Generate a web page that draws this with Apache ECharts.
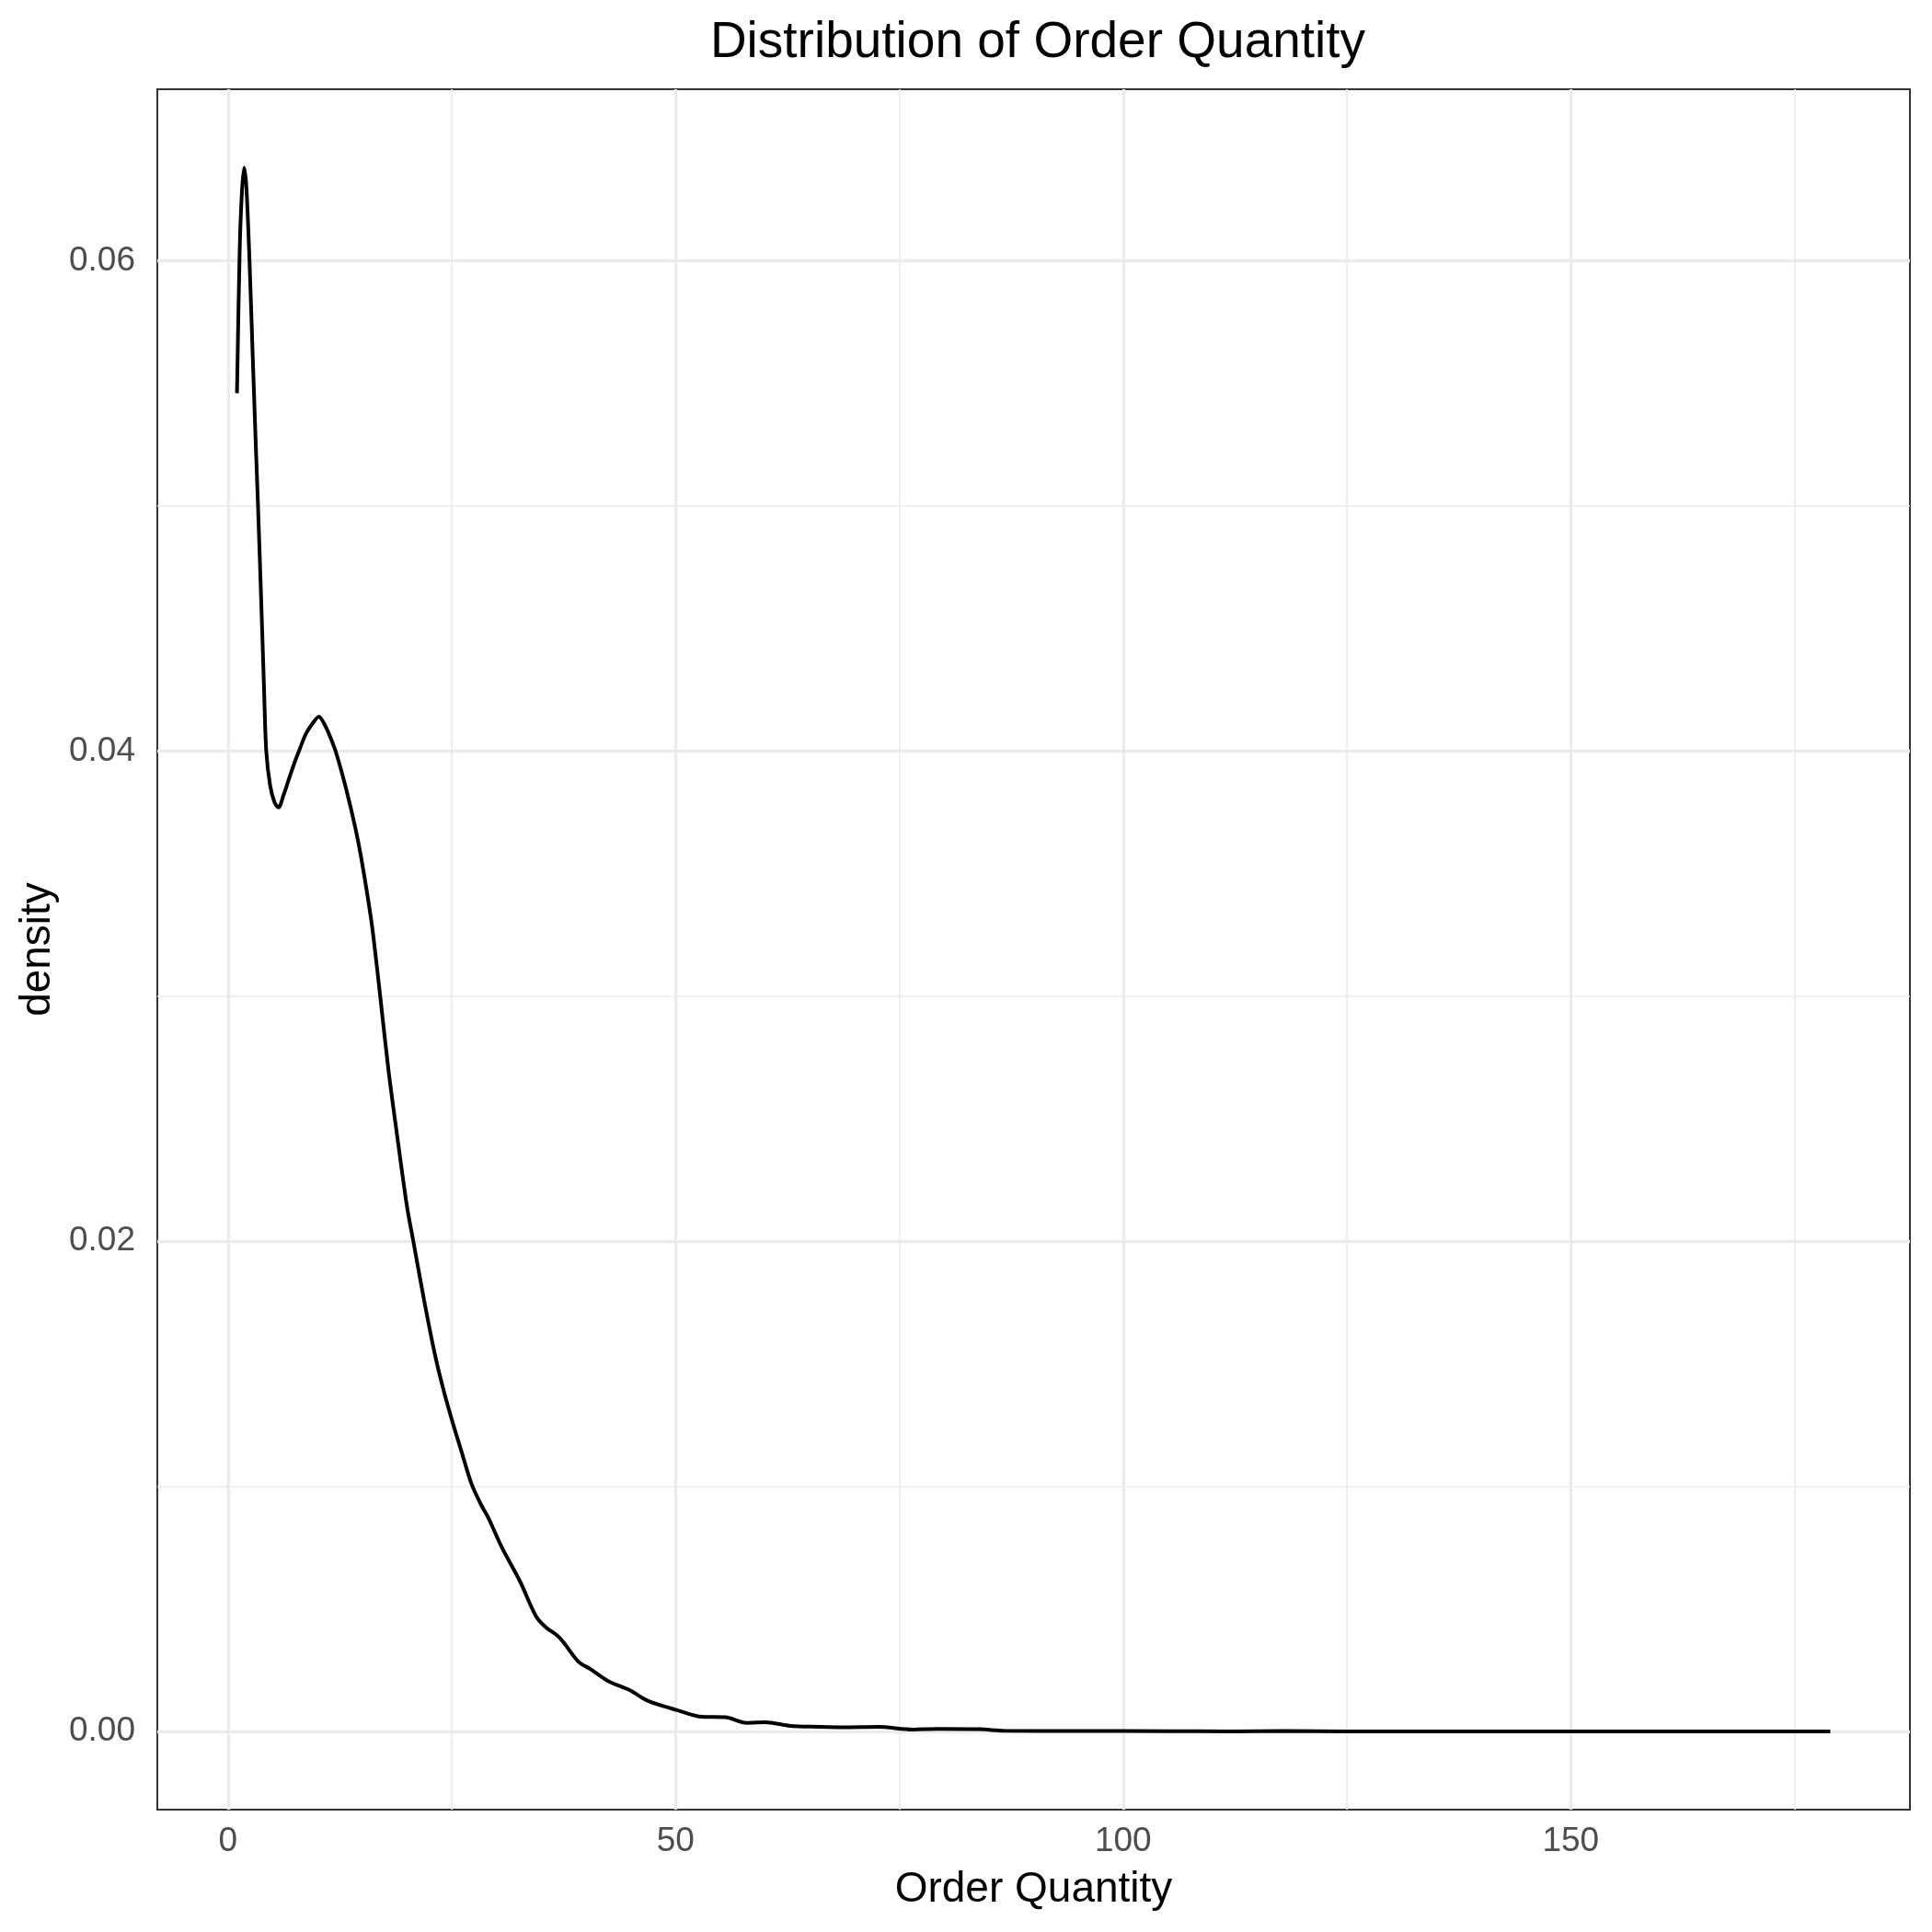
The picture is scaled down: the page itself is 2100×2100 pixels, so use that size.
<!DOCTYPE html>
<html>
<head>
<meta charset="utf-8">
<title>Distribution of Order Quantity</title>
<script src="https://cdn.jsdelivr.net/npm/echarts@6/dist/echarts.min.js"></script>
<style>
  html, body { margin: 0; padding: 0; background: #fff; }
  #chart { width: 2100px; height: 2100px; }
</style>
</head>
<body>
<div id="chart"></div>
<script>
// density curve
var qty = [1.0, 1.3, 1.55, 1.8, 2.05, 2.4, 2.75, 3.1, 3.35, 3.7, 4.0, 4.27, 4.7, 5.2, 5.64, 6.2, 6.84, 7.5, 8.03, 8.7,
           9.4, 10.15, 10.9, 11.5, 12.1, 13.16, 14.2, 14.9, 16.0, 16.6, 17.0, 17.95, 18.97, 20.0, 20.7, 21.9, 23.1, 24.1,
           25.1, 26.1, 27.2, 28.2, 29.1, 30.6, 32.65, 34.36, 35.38, 36.75, 37.43, 39.14, 40.51, 42.56, 44.95, 46.66, 48.03,
           50.08, 52.82, 55.55, 57.94, 60.0, 62.8, 66.0, 68.7, 72.6, 76.5, 79.3, 84.0, 86.7, 95, 105, 112, 118, 125, 140, 155, 179];
var density = [0.0546, 0.0604, 0.0628, 0.0638, 0.0630, 0.0600, 0.0562, 0.0525, 0.0500, 0.0462, 0.0428, 0.0400, 0.0386,
               0.0379, 0.0377, 0.0382, 0.0389, 0.0396, 0.0401, 0.0407, 0.0411, 0.0414, 0.0410, 0.0405, 0.0399, 0.0385,
               0.0369, 0.0356, 0.0331, 0.0313, 0.0300, 0.0269, 0.0241, 0.0214, 0.0200, 0.0176, 0.0154, 0.0139, 0.0126,
               0.0114, 0.0101, 0.0093, 0.0087, 0.0075, 0.0061, 0.00473, 0.00429, 0.00392, 0.00366, 0.00285, 0.00254, 0.00204,
               0.00167, 0.00129, 0.0011, 0.00088, 0.0006, 0.00058, 0.00035, 0.00038, 0.00023, 0.00019, 0.00017, 0.00019,
               0.00008, 0.0001, 0.00009, 0.00003, 0.00002, 0.00001, 0.000005, 0.00002, 0.000005, 0.000004, 0.000003, 0.000002];

// ticks and grid lines
var xTicks = [0, 50, 100, 150];
var xMinor = [25, 75, 125, 175];
var yTicks = [0, 0.02, 0.04, 0.06];
var yMinor = [0.01, 0.03, 0.05];

var font = 'Liberation Sans';

var chart = echarts.init(document.getElementById('chart'));

function gridLines(xs, ys, width) {
    return {
        type: 'line',
        data: [],
        z: 1,
        silent: true,
        markLine: {
            silent: true,
            animation: false,
            symbol: ['none', 'none'],
            label: { show: false },
            emphasis: { disabled: true },
            lineStyle: { color: '#EBEBEB', width: width, type: 'solid' },
            data: xs.map(function (v) { return { xAxis: v }; })
                    .concat(ys.map(function (v) { return { yAxis: v }; }))
        }
    };
}

var option = {
    backgroundColor: '#ffffff',
    animation: false,
    title: {
        text: 'Distribution of Order Quantity',
        left: 1123,
        top: 14,
        textAlign: 'center',
        textStyle: { fontFamily: font, fontSize: 55, fontWeight: 'normal', color: '#000000' }
    },
    grid: {
        left: 171,
        right: 24,
        top: 97,
        bottom: 133,
        show: true,
        borderColor: '#333333',
        borderWidth: 2,
        backgroundColor: '#ffffff'
    },
    xAxis: {
        type: 'value',
        min: -7.9,
        max: 187.9,
        name: 'Order Quantity',
        nameLocation: 'middle',
        nameGap: 64,
        nameTextStyle: { fontFamily: font, fontSize: 46, color: '#000000' },
        axisLine: { show: false },
        axisTick: { show: true, customValues: xTicks, length: 11, lineStyle: { color: '#333333', width: 2.5 } },
        axisLabel: {
            customValues: xTicks,
            margin: 16,
            fontFamily: font, fontSize: 37, color: '#4D4D4D',
            formatter: function (v) { return String(v); }
        },
        splitLine: { show: false }
    },
    yAxis: {
        type: 'value',
        min: -0.00319,
        max: 0.067,
        name: 'density',
        nameLocation: 'middle',
        nameGap: 104,
        nameRotate: 90,
        nameTextStyle: { fontFamily: font, fontSize: 46, color: '#000000' },
        axisLine: { show: false },
        axisTick: { show: true, customValues: yTicks, length: 11, lineStyle: { color: '#333333', width: 2.5 } },
        axisLabel: {
            customValues: yTicks,
            margin: 24,
            fontFamily: font, fontSize: 37, color: '#4D4D4D',
            formatter: function (v) { return v.toFixed(2); }
        },
        splitLine: { show: false }
    },
    series: [
        gridLines(xMinor, yMinor, 1.7),
        gridLines(xTicks, yTicks, 3.3),
        {
            name: 'density',
            type: 'line',
            z: 5,
            data: qty.map(function (q, i) { return [q, density[i]]; }),
            showSymbol: false,
            smooth: 0.3,
            lineStyle: { color: '#000000', width: 4 }
        }
    ]
};

chart.setOption(option);
</script>
</body>
</html>
